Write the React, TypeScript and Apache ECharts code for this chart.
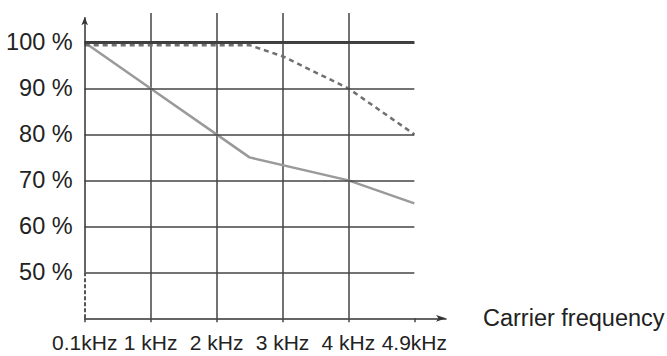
import React, { useEffect, useRef } from 'react';
import * as echarts from 'echarts';

// Carrier frequency categories (placed at positions 0..5 on the x scale)
const freqLabels = ['0.1kHz', '1 kHz', '2 kHz', '3 kHz', '4 kHz', '4.9kHz'];
const xPositions = [0, 1, 2, 3, 4, 5];

// Y tick labels (percent)
const yTicks = [50, 60, 70, 80, 90, 100];

// Thick dark line: 100 %
const ratedValues = [100, 100, 100, 100, 100, 100];

// Dashed curve
const dashedX = [0, 1, 2, 2.5, 3, 4, 5];
const dashedY = [99.4, 99.4, 99.4, 99.4, 97, 90, 80];

// Light gray declining line
const grayX = [0, 1, 2, 2.5, 4, 5];
const grayY = [100, 90, 80, 75, 70, 65];

const Y_MIN = 40;
const Y_MAX = 106.4;
const Y_ARROW_END = 105.5;
const Y_BREAK = 50;
const X_MAX = 5.48;

const FONT = '"Liberation Sans", Arial, Helvetica, sans-serif';

export default function App() {
  const ref = useRef<HTMLDivElement>(null);

  useEffect(() => {
    const chart = echarts.init(ref.current!, null, { renderer: 'svg' });
    const lastX = xPositions[xPositions.length - 1];
    const gridLines = yTicks.map((v) => [
      { coord: [xPositions[0], v], lineStyle: { color: '#444', width: 1.5, type: 'solid' } },
      { coord: [lastX, v] },
    ]);
    chart.setOption({
      animation: false,
      backgroundColor: '#fff',
      textStyle: { fontFamily: FONT },
      grid: {
        left: 84.7,
        top: 13,
        right: 221,
        bottom: 37.7,
        containLabel: false,
        outerBoundsMode: 'none',
      },
      xAxis: {
        type: 'value',
        min: 0,
        max: X_MAX,
        interval: 1,
        axisLine: {
          show: true,
          symbol: ['none', 'arrow'],
          symbolSize: [5, 10],
          lineStyle: { color: '#333', width: 1.5 },
        },
        axisTick: {
          show: true,
          length: 4,
          customValues: xPositions,
          lineStyle: { color: '#444', width: 1.5 },
        },
        axisLabel: {
          customValues: xPositions,
          formatter: (v: number) =>
            Number.isInteger(v) && freqLabels[v] !== undefined ? freqLabels[v] : '',
          fontSize: 21,
          color: '#222',
          margin: 14,
          fontFamily: FONT,
        },
        splitLine: {
          show: true,
          showMinLine: false,
          showMaxLine: false,
          lineStyle: { color: '#444', width: 1.5 },
        },
        name: 'Carrier frequency',
        nameLocation: 'end',
        nameGap: 37,
        nameTextStyle: {
          fontSize: 23.5,
          color: '#222',
          align: 'left',
          verticalAlign: 'middle',
          fontFamily: FONT,
        },
      },
      yAxis: {
        type: 'value',
        min: Y_MIN,
        max: Y_MAX,
        interval: 10,
        axisLine: { show: false },
        axisTick: { show: false },
        axisLabel: {
          customValues: yTicks,
          formatter: (v: number) => (yTicks.includes(v) ? `${v} %` : ''),
          fontSize: 23.5,
          color: '#222',
          margin: 12,
          fontFamily: FONT,
        },
        splitLine: { show: false },
      },
      series: [
        {
          type: 'line',
          z: 1,
          data: [],
          symbol: 'none',
          silent: true,
          markLine: {
            silent: true,
            symbol: 'none',
            label: { show: false },
            emphasis: { disabled: true },
            animation: false,
            data: [
              ...gridLines,
              [
                {
                  coord: [xPositions[0], Y_BREAK],
                  symbol: 'none',
                  lineStyle: { color: '#333', width: 1.5, type: 'solid' },
                },
                { coord: [xPositions[0], Y_ARROW_END], symbol: 'arrow', symbolSize: [5, 8] },
              ],
              [
                {
                  coord: [xPositions[0], Y_MIN],
                  lineStyle: { color: '#555', width: 2, type: [4, 2] },
                },
                { coord: [xPositions[0], Y_BREAK] },
              ],
            ],
          },
        },
        {
          type: 'line',
          z: 2,
          symbol: 'none',
          data: grayX.map((x, i) => [x, grayY[i]]),
          lineStyle: { color: '#9a9a9a', width: 2.5 },
        },
        {
          type: 'line',
          z: 3,
          symbol: 'none',
          data: dashedX.map((x, i) => [x, dashedY[i]]),
          lineStyle: { color: '#707070', width: 2.5, type: [5, 4] },
        },
        {
          type: 'line',
          z: 4,
          symbol: 'none',
          data: xPositions.map((x, i) => [x, ratedValues[i]]),
          lineStyle: { color: '#3a3a3a', width: 3 },
        },
      ],
    });
    return () => chart.dispose();
  }, []);

  return (
    <div
      ref={ref}
      style={{ position: 'fixed', left: 0, top: 0, width: 667, height: 356, background: '#fff' }}
    />
  );
}
